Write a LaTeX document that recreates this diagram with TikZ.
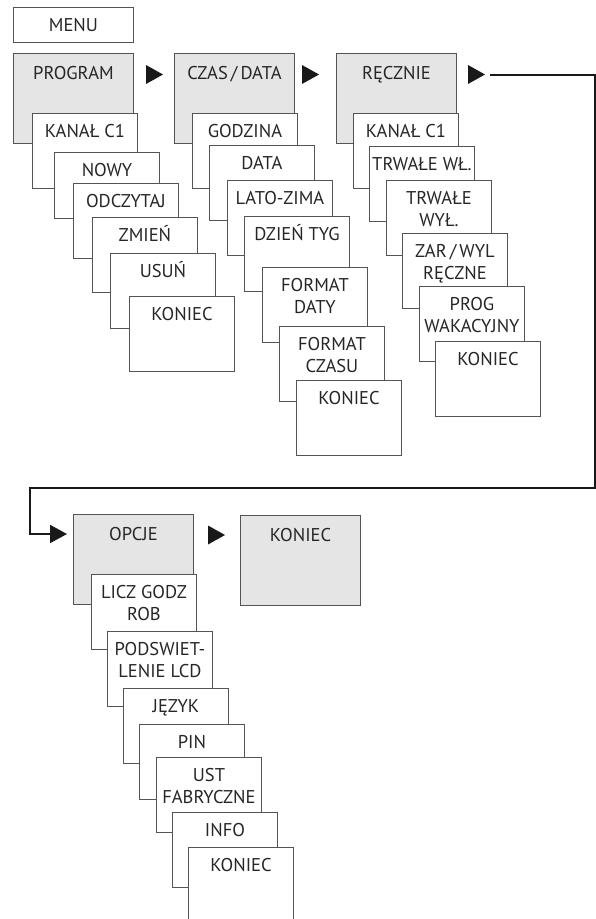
\documentclass[tikz,border=0pt]{standalone}
\usepackage{fontspec}
\setmainfont{PT Sans}
\usetikzlibrary{arrows.meta}
\definecolor{hellgrau}{rgb}{0.9,0.9,0.9}
\definecolor{rahmengrau}{rgb}{0.33,0.33,0.33}
\definecolor{schrift}{rgb}{0.15,0.15,0.15}

\begin{document}
\begin{tikzpicture}[x=1pt, y=-1pt, font=\fontsize{18.5}{22.5}\selectfont, text=schrift,
  karte/.style={draw=rahmengrau, line width=0.9pt, fill=white, anchor=north west,
    minimum width=105pt, inner xsep=0pt, inner ysep=11pt, align=center,
    text height=13pt, text depth=40pt},
  zwei/.style={text height=35.5pt, text depth=17.5pt},
  kopf/.style={karte, fill=hellgrau, minimum width=120pt, inner ysep=13pt, text depth=51pt},
  schleife/.style={line width=1.8pt, draw=black!90, -{Triangle[length=17pt, width=18pt]}}]
\useasboundingbox (0,0) rectangle (596,919);
% menu
\node[draw=rahmengrau, line width=0.9pt, minimum width=120pt, minimum height=35pt, anchor=north west] (menu) at (13,7) {MENU};
% program
\node[kopf] (prog) at (13,53) {PROGRAM};
\node[karte] (p1) at (32,113) {KANAŁ C1};
\node[karte, text depth=31pt] (p2) at (54,152) {NOWY};
\node[karte] (p3) at (73,183) {ODCZYTAJ};
\node[karte] (p4) at (92,217) {ZMIEŃ};
\node[karte] (p5) at (110,253) {USUŃ};
\node[karte] (p6) at (129,296) {KONIEC};
% czas/data
\node[kopf] (czas) at (174,53) {CZAS\,/\,DATA};
\node[karte] (c1) at (192,113) {GODZINA};
\node[karte] (c2) at (209,145) {DATA};
\node[karte] (c3) at (227,180) {LATO-ZIMA};
\node[karte] (c4) at (244,216) {DZIEŃ TYG};
\node[karte, zwei] (c5) at (262,267) {FORMAT\\DATY};
\node[karte, zwei] (c6) at (279,326) {FORMAT\\CZASU};
\node[karte] (c7) at (296,380) {KONIEC};
% recznie
\node[kopf] (reczn) at (336,53) {RĘCZNIE};
\node[karte] (r1) at (353,113) {KANAŁ C1};
\node[karte] (r2) at (369,146) {TRWAŁE WŁ.};
\node[karte, zwei] (r3) at (386,180) {TRWAŁE\\WYŁ.};
\node[karte, zwei] (r4) at (402,233) {ZAR\,/\,WYL\\RĘCZNE};
\node[karte, zwei] (r5) at (419,286) {PROG\\WAKACYJNY};
\node[karte] (r6) at (435,341) {KONIEC};
% opcje
\node[kopf] (opcje) at (73,514) {OPCJE};
\node[kopf] (ende) at (240,515) {KONIEC};
\node[karte, zwei] (o1) at (91,574) {LICZ GODZ\\ROB};
\node[karte, zwei] (o2) at (107,631) {PODSWIET-\\LENIE LCD};
\node[karte] (o3) at (123,688) {JĘZYK};
\node[karte] (o4) at (139,724) {PIN};
\node[karte, zwei] (o5) at (156,757) {UST\\FABRYCZNE};
\node[karte] (o6) at (172,812) {INFO};
\node[karte] (o7) at (188,847) {KONIEC};
% pfeile
\foreach \x/\y in {146/74.5, 302/74.5, 468/74.5, 208/535}
  \fill[black!90] (\x,\y-9.5) -- ++(17,9.5) -- ++(-17,9.5) -- cycle;
\coordinate (weiter) at (490,75);
\coordinate (zurueck) at ([shift={(-6,20)}]opcje.north west);
\draw[schleife] (weiter) -- (595,75) -- (595,488) -- (30,488) |- (zurueck);
\end{tikzpicture}
\end{document}
